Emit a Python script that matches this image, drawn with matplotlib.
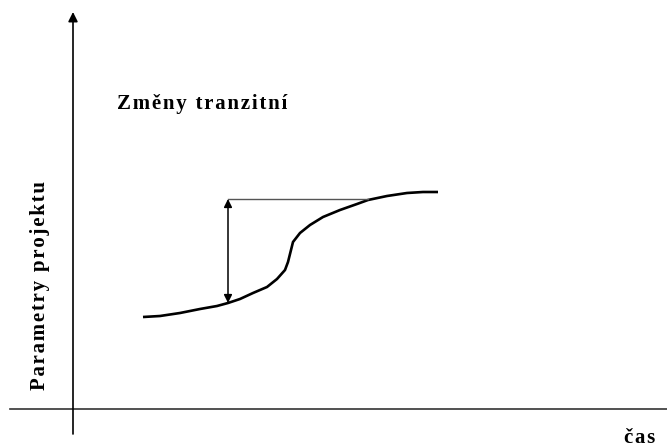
import numpy as np
import matplotlib.pyplot as plt

# S-curve of project parameters over time (origin = axis crossing)
cas = [70, 87, 107, 127, 144, 155, 167, 180, 194, 204, 212, 215, 218,
       220, 227, 237, 250, 267, 284, 295, 314, 334, 350, 365]
parametry = [92, 93, 96, 100, 103, 106, 110, 116, 122, 130, 139, 147, 159,
             167, 176, 184, 192, 199, 205, 209, 213, 216, 217, 217]

# transition jump marker
skok_t = 155
skok_od = 106
skok_do = 210
skok_konec = 295

titulek = "Změny tranzitní"
osa_x = "čas"
osa_y = "Parametry projektu"

plt.rcParams['font.family'] = ['Liberation Serif', 'DejaVu Serif']

fig = plt.figure(figsize=(6.67, 4.48), dpi=100)
ax = fig.add_axes([0, 0, 1, 1])
ax.set_xlim(-73, 594)
ax.set_ylim(-39, 409)
ax.axis('off')

# axes
ax.plot([-63, 594], [0, 0], color='#333333', lw=1.2)
ax.annotate('', xy=(0, 397), xytext=(0, -25),
            arrowprops=dict(arrowstyle='-|>', color='black', lw=1.2,
                            mutation_scale=14, shrinkA=0, shrinkB=0))

# curve
ax.plot(cas, parametry, color='black', lw=1.9, solid_capstyle='butt',
        solid_joinstyle='round')

# jump
ax.plot([skok_t, skok_konec], [skok_do, skok_do], color='#555555', lw=1.0)
ax.annotate('', xy=(skok_t, skok_do), xytext=(skok_t, skok_od),
            arrowprops=dict(arrowstyle='<|-|>', color='black', lw=1.1,
                            mutation_scale=12, shrinkA=0, shrinkB=0))

sp = '\u200a'
ax.text(44, 305, sp.join(titulek), fontsize=15, fontweight='bold',
        ha='left', va='center')
ax.text(582, -29, sp.join(osa_x), fontsize=15, fontweight='bold',
        ha='right', va='center')
ax.text(-33, 124, sp.join(osa_y), fontsize=15, fontweight='bold', rotation=90,
        ha='center', va='center')

fig.savefig('out.png', dpi=100)
